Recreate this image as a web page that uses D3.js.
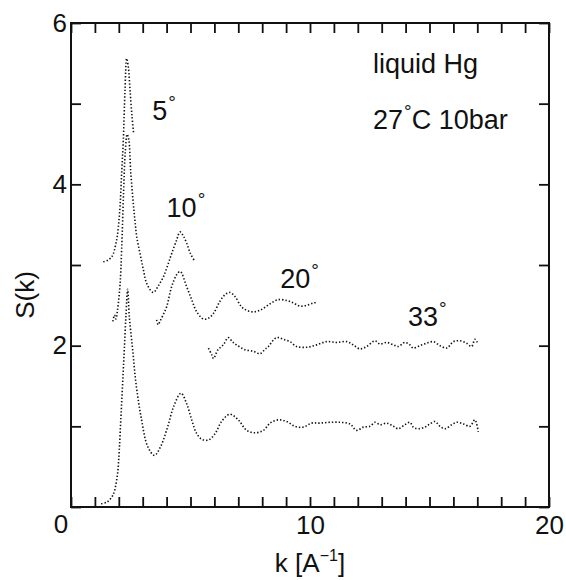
<!DOCTYPE html>
<html>
<head>
<meta charset="utf-8">
<script src="https://cdn.jsdelivr.net/npm/d3@7"></script>
<style>
  body { margin: 0; background: #fff; }
  svg { font-family: "Liberation Sans", Arial, sans-serif; }
</style>
</head>
<body>
<svg width="566" height="580"></svg>
<script>
// S(k) of liquid Hg. Curves are shifted up as in the figure.
// combined S(k) (no shift)
var kAll = [1.26, 1.5, 1.7, 1.81, 1.95, 2.02, 2.09, 2.16, 2.23, 2.3, 2.37, 2.44, 2.58, 2.72, 2.93, 3.21, 3.49, 3.75, 4.05, 4.3, 4.6, 4.84, 5.05, 5.26, 5.47, 5.75, 6.03, 6.3, 6.65, 7.0, 7.35, 7.7, 8.05, 8.33, 8.67, 9.02, 9.37, 9.72, 10.07, 10.42, 10.84, 11.26, 11.67, 11.95, 12.23, 12.51, 12.72, 12.93, 13.21, 13.49, 13.7, 13.97, 14.18, 14.32, 14.53, 14.81, 15.02, 15.23, 15.44, 15.65, 15.93, 16.14, 16.42, 16.69, 16.9, 17.04];
var sAll = [0.04, 0.06, 0.12, 0.19, 0.42, 0.71, 1.12, 1.53, 1.95, 2.38, 2.7, 2.36, 1.95, 1.53, 1.12, 0.75, 0.64, 0.75, 1.0, 1.25, 1.41, 1.28, 1.08, 0.91, 0.84, 0.83, 0.91, 1.06, 1.15, 1.08, 0.95, 0.92, 0.95, 1.04, 1.08, 1.06, 1.0, 0.99, 1.04, 1.04, 1.05, 1.05, 1.03, 0.95, 0.99, 1.0, 1.05, 1.02, 1.04, 1.0, 0.97, 1.02, 1.05, 0.99, 0.97, 0.99, 1.03, 1.06, 1.0, 0.97, 1.02, 1.05, 1.03, 1.0, 1.08, 0.93];

// 5 deg scan
var k5 = [1.35, 1.55, 1.7, 1.77, 1.91, 1.98, 2.05, 2.12, 2.19, 2.26, 2.33, 2.4, 2.47, 2.55, 2.62];
var s5 = [3.04, 3.06, 3.1, 3.14, 3.31, 3.47, 3.72, 4.14, 4.55, 5.17, 5.56, 5.45, 5.17, 4.85, 4.63];

// 10 deg scan
var k10 = [1.75, 1.82, 1.88, 1.95, 2.05, 2.12, 2.2, 2.27, 2.35, 2.42, 2.5, 2.61, 2.68, 2.75, 2.89, 3.03, 3.17, 3.44, 3.65, 3.86, 4.05, 4.21, 4.42, 4.56, 4.7, 4.84, 5.0, 5.19];
var s10 = [2.3, 2.38, 2.33, 2.45, 2.75, 3.2, 3.9, 4.4, 4.62, 4.55, 4.15, 3.75, 3.54, 3.35, 3.14, 2.94, 2.77, 2.66, 2.74, 2.85, 3.0, 3.14, 3.31, 3.41, 3.36, 3.27, 3.14, 3.04];

// 20 deg scan
var k20 = [3.58, 3.65, 3.72, 3.85, 4.0, 4.21, 4.42, 4.57, 4.84, 5.05, 5.26, 5.54, 5.75, 5.96, 6.23, 6.44, 6.65, 6.86, 7.14, 7.42, 7.7, 7.98, 8.33, 8.67, 9.02, 9.3, 9.58, 9.86, 10.14, 10.32];
var s20 = [2.32, 2.26, 2.3, 2.38, 2.48, 2.73, 2.88, 2.92, 2.73, 2.57, 2.42, 2.33, 2.34, 2.4, 2.55, 2.63, 2.66, 2.61, 2.48, 2.43, 2.42, 2.45, 2.52, 2.57, 2.56, 2.53, 2.49, 2.5, 2.53, 2.54];

// 33 deg scan
var k33 = [5.75, 5.9, 5.96, 6.15, 6.37, 6.58, 6.75, 6.93, 7.28, 7.63, 7.91, 8.1, 8.26, 8.54, 8.7, 8.88, 9.16, 9.44, 9.86, 10.28, 10.7, 11.12, 11.54, 11.81, 12.09, 12.37, 12.72, 12.93, 13.21, 13.49, 13.7, 13.97, 14.18, 14.32, 14.6, 14.88, 15.16, 15.44, 15.72, 16.0, 16.28, 16.55, 16.76, 16.9, 17.0];
var s33 = [1.97, 1.88, 1.84, 1.95, 2.01, 2.1, 2.05, 2.01, 1.95, 1.93, 1.9, 1.95, 1.99, 2.09, 2.1, 2.08, 2.05, 1.99, 1.98, 2.01, 2.05, 2.04, 2.05, 2.01, 1.96, 1.99, 2.06, 2.02, 2.04, 2.01, 1.99, 2.04, 2.01, 1.97, 2.0, 2.03, 2.05, 2.0, 1.97, 2.05, 2.06, 2.03, 1.99, 2.08, 2.04];

var xTicks = d3.range(0, 21);
var yTicks = d3.range(0, 7);
var xLabels = [10, 20];
var yLabels = [2, 4, 6];

// angle labels, placed at (k, S)
var angleNames = ['5', '10', '20', '33'];
var angleK = [3.4, 4.0, 8.75, 14.1];
var angleS = [4.8, 3.6, 2.72, 2.24];

var svg = d3.select('svg');
var plotL = 71, plotR = 549, plotT = 23, plotB = 507;

var x = d3.scaleLinear().domain([0, 20]).range([plotL, plotR]);
var y = d3.scaleLinear().domain([0, 6]).range([plotB, plotT]);

function fmtX(d) { return xLabels.indexOf(d) >= 0 ? d : ''; }
function fmtY(d) { return yLabels.indexOf(d) >= 0 ? d : ''; }

// axes, ticks pointing inwards on all four sides
var gB = svg.append('g').attr('transform', 'translate(0,' + plotB + ')')
	.call(d3.axisBottom(x).tickValues(xTicks).tickSize(-10).tickPadding(9).tickFormat(fmtX));
var gT = svg.append('g').attr('transform', 'translate(0,' + plotT + ')')
	.call(d3.axisTop(x).tickValues(xTicks).tickSize(-10).tickFormat(''));
var gL = svg.append('g').attr('transform', 'translate(' + plotL + ',0)')
	.call(d3.axisLeft(y).tickValues(yTicks).tickSize(-10).tickPadding(4).tickFormat(fmtY));
var gR = svg.append('g').attr('transform', 'translate(' + plotR + ',0)')
	.call(d3.axisRight(y).tickValues(yTicks).tickSize(-10).tickFormat(''));

[gB, gT, gL, gR].forEach(function(g) {
	g.select('.domain').remove();
	g.selectAll('.tick line').attr('stroke', '#111').attr('stroke-width', 1.8);
	g.selectAll('text').attr('font-size', 26).attr('fill', '#111')
		.attr('font-family', '"Liberation Sans", Arial, sans-serif');
});

// shared origin label
svg.append('text')
	.attr('x', x(0) - 10).attr('y', plotB + 26)
	.attr('text-anchor', 'middle').attr('font-size', 26).attr('fill', '#111')
	.text('0');

svg.append('rect')
	.attr('x', plotL).attr('y', plotT)
	.attr('width', plotR - plotL).attr('height', plotB - plotT)
	.attr('fill', 'none').attr('stroke', '#111').attr('stroke-width', 2);

// dotted data curves
var line = d3.line()
	.x(function(d) { return x(d[0]); })
	.y(function(d) { return y(d[1]); })
	.curve(d3.curveCatmullRom);

var series = [[kAll, sAll], [k5, s5], [k10, s10], [k20, s20], [k33, s33]];
svg.append('g').selectAll('path')
	.data(series)
	.enter()
	.append('path')
	.attr('d', function(s) { return line(d3.zip(s[0], s[1])); })
	.attr('fill', 'none')
	.attr('stroke', '#111')
	.attr('stroke-width', 1.6)
	.attr('stroke-dasharray', '1.4,2');

// angle labels
var lab = svg.append('g').selectAll('text')
	.data(angleNames)
	.enter()
	.append('text')
	.attr('x', function(d, i) { return x(angleK[i]); })
	.attr('y', function(d, i) { return y(angleS[i]); })
	.attr('font-size', 27)
	.attr('fill', '#111');
lab.append('tspan').text(function(d) { return d; });
lab.append('tspan').attr('font-size', 19).attr('dy', -11).attr('dx', 1).text('°');

// sample info
svg.append('text').attr('x', 373).attr('y', 73)
	.attr('font-size', 27).attr('fill', '#111').text('liquid Hg');
var info = svg.append('text').attr('x', 373).attr('y', 129)
	.attr('font-size', 27).attr('fill', '#111');
info.append('tspan').text('27');
info.append('tspan').attr('font-size', 19).attr('dy', -11).attr('dx', 1).text('°');
info.append('tspan').attr('dy', 11).text('C 10bar');

// axis titles
svg.append('text')
	.attr('transform', 'translate(34,' + ((plotT + plotB) / 2 + 30) + ') rotate(-90)')
	.attr('text-anchor', 'middle').attr('font-size', 26).attr('fill', '#111')
	.text('S(k)');
var xt = svg.append('text')
	.attr('x', (plotL + plotR) / 2).attr('y', 572)
	.attr('text-anchor', 'middle').attr('font-size', 26).attr('fill', '#111');
xt.append('tspan').text('k [A');
xt.append('tspan').attr('font-size', 16).attr('dy', -11).text('−1');
xt.append('tspan').attr('dy', 11).text(']');
</script>
</body>
</html>
